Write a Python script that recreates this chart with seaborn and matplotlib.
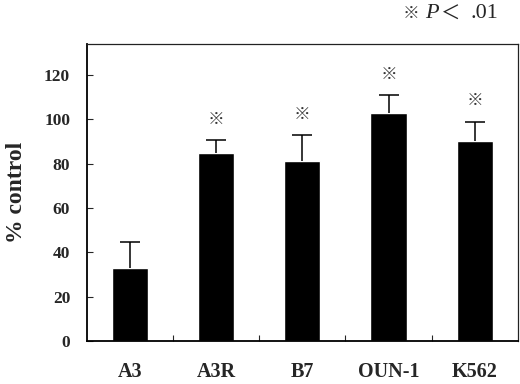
import numpy as np
import pandas as pd
import matplotlib
matplotlib.use("Agg")
import matplotlib.pyplot as plt
import seaborn as sns

# values
cells = ["A3", "A3R", "B7", "OUN-1", "K562"]
pct_control = [33.0, 85.0, 81.2, 102.7, 90.5]
sd_upper = [11.7, 5.7, 11.6, 8.3, 8.4]
significant = [False, True, True, True, True]
y_ticks = [0, 20, 40, 60, 80, 100, 120]

df = pd.DataFrame({"cell": cells, "pct": pct_control, "sd": sd_upper})

sns.set_style("white")
plt.rcParams["font.family"] = ["Liberation Serif", "Noto Sans CJK JP", "DejaVu Sans"]
cjk = ["Noto Sans CJK JP", "DejaVu Sans"]

fig = plt.figure(figsize=(5.2, 3.84), dpi=100)
ax = fig.add_axes([0.167, 0.112, 0.829, 0.773])

sns.barplot(data=df, x="cell", y="pct", color="black", width=0.42,
            saturation=1, errorbar=None, ax=ax)

# upper error bars only (hide the cap sitting on the bar top)
xpos = np.arange(len(cells))
eb = ax.errorbar(xpos, df["pct"], yerr=[np.zeros(len(cells)), df["sd"]],
                 fmt="none", ecolor="black", elinewidth=1.1, capsize=7.5, capthick=1.1)
eb[1][0].set_visible(False)

# significance marks above the bars
for i, (v, e, s) in enumerate(zip(pct_control, sd_upper, significant)):
    if s:
        ax.text(i, v + e + 9.5, "\u203b", ha="center", va="center", fontsize=12,
                color="#333333", family=cjk)

ax.set_ylim(0, 134)
ax.set_xlim(-0.5, len(cells) - 0.5)
ax.set_yticks(y_ticks)
ax.set_yticklabels([str(t) for t in y_ticks], fontsize=12.5, fontweight="bold")
ax.set_xticks(xpos)
ax.set_xticklabels(cells, fontsize=14.5, fontweight="bold")
ax.set_xticks(xpos[:-1] + 0.5, minor=True)
ax.tick_params(axis="y", direction="in", length=4, width=0.8, pad=12, left=True)
ax.tick_params(axis="x", which="major", length=0, pad=15)
ax.tick_params(axis="x", which="minor", direction="in", length=4, width=0.8, bottom=True)

ax.set_xlabel("")
ax.set_ylabel("% control", fontsize=17, fontweight="bold", labelpad=12)

for side in ["left", "bottom"]:
    ax.spines[side].set_linewidth(1.3)
    ax.spines[side].set_color("black")
for side in ["top", "right"]:
    ax.spines[side].set_linewidth(0.9)
    ax.spines[side].set_color("#222222")

# p-value legend at the top right
fig.text(411 / 520, 0.965, "\u203b", ha="center", va="center", fontsize=12,
         color="#333333", family=cjk)
fig.text(425 / 520, 0.965, "P", ha="left", va="center", fontsize=16, style="italic")
fig.text(441 / 520, 0.962, "\uff1c", ha="left", va="center", fontsize=14, family=cjk)
fig.text(470 / 520, 0.965, ".01", ha="left", va="center", fontsize=16)

fig.savefig("out.png", dpi=100)
